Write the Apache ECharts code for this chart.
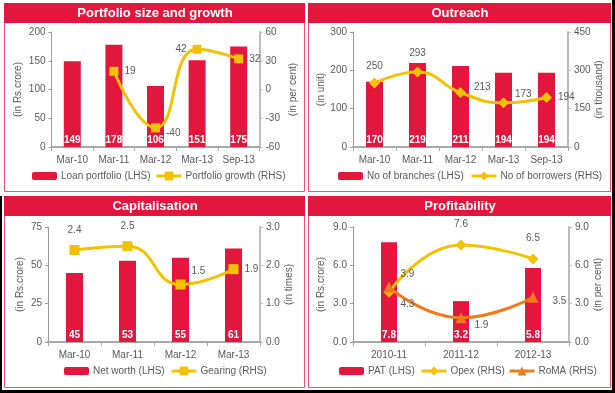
<!DOCTYPE html>
<html><head><meta charset="utf-8">
<script src="https://cdn.jsdelivr.net/npm/echarts@6/dist/echarts.min.js"></script>
<style>html,body{margin:0;padding:0;background:#fff}#c{width:615px;height:393px}</style>
</head><body><div id="c"></div>
<script>
// ---- data ----
const portfolioCats = ['Mar-10','Mar-11','Mar-12','Mar-13','Sep-13'];
const loanPortfolio = [149,178,106,151,175];
const portfolioGrowth = [null,19,-40,42,32];
const outreachCats = ['Mar-10','Mar-11','Mar-12','Mar-13','Sep-13'];
const branches = [170,219,211,194,194];
const borrowers = [250,293,213,173,194];
const capCats = ['Mar-10','Mar-11','Mar-12','Mar-13'];
const netWorth = [45,53,55,61];
const gearing = [2.4,2.5,1.5,1.9];
const profCats = ['2010-11','2011-12','2012-13'];
const pat = [7.8,3.2,5.8];
const opex = [3.9,7.6,6.5];
const roma = [4.3,1.9,3.5];
const titles = ['Portfolio size and growth','Outreach','Capitalisation','Profitability'];
const axisNames = [['(in Rs.crore)','(in per cent)'],['(in unit)','(in thousand)'],['(in Rs.crore)','(in times)'],['(in Rs.crore)','(in per cent)']];

// ---- label placement (style only) ----
const growthLbl = [null,{p:'right',o:[0,0]},{p:'right',o:[0,5]},{p:'left',o:[0,0]},{p:'right',o:[0,0]}];
const borrowersLbl = [{p:'top',o:[0,0]},{p:'top',o:[0,-2]},{p:'right',o:[2,-5]},{p:'right',o:[0,-9]},{p:'right',o:[0,0]}];
const gearingLbl = [{p:'top',o:[0,-4]},{p:'top',o:[0,-4]},{p:'right',o:[0,-13]},{p:'right',o:[0,0]}];
const opexLbl = [{p:'right',o:[0,-18]},{p:'top',o:[0,-4]},{p:'top',o:[0,-4]}];
const romaLbl = [{p:'right',o:[0,17]},{p:'right',o:[2,8]},{p:'right',o:[8,4]}];

const FONT = "'Liberation Sans',Arial,sans-serif";
const FS = 10;
const RED = '#E3173E', YEL = '#F2C200', ORG = '#F07A1E', TXT = '#595959';

const grids = [
  {left:51.5, top:32, width:208, height:115},
  {left:353, top:32, width:215, height:115},
  {left:48, top:227, width:212, height:115},
  {left:353, top:227, width:216, height:115}
];
const cats = [portfolioCats, outreachCats, capCats, profCats];
const yL = [[0,200,50],[0,300,100],[0,75,25],[0,9,3]];
const yR = [[-60,60,30],[0,450,150],[0,3,1],[0,9,3]];
const fmtL = [null,null,null,v=>v.toFixed(1)];
const fmtR = [null,null,v=>v.toFixed(1),v=>v.toFixed(1)];
const gapL = [28,26,23,27];
const gapR = [29,23,24,22];

const xAxis = cats.map((c,i)=>({
  type:'category', gridIndex:i, data:c, boundaryGap:true,
  axisLine:{lineStyle:{color:'#a8a8a8', width:2}},
  axisTick:{show:true, length:4, lineStyle:{color:'#a8a8a8'}},
  axisLabel:{color:TXT, fontSize:FS, fontFamily:FONT, margin:8, interval:0}
}));
const yAxis = [];
for (let i=0;i<4;i++){
  yAxis.push({type:'value', gridIndex:i, position:'left', min:yL[i][0], max:yL[i][1], interval:yL[i][2],
    name:axisNames[i][0], nameLocation:'middle', nameRotate:90, nameGap:gapL[i],
    nameTextStyle:{color:TXT, fontSize:FS, fontFamily:FONT},
    axisLine:{show:true, lineStyle:{color:'#999', width:1}},
    axisTick:{show:true, length:3, lineStyle:{color:'#999'}},
    axisLabel:{color:TXT, fontSize:FS, fontFamily:FONT, margin:6, formatter:fmtL[i]||undefined},
    splitLine:{show:false}});
  yAxis.push({type:'value', gridIndex:i, position:'right', min:yR[i][0], max:yR[i][1], interval:yR[i][2],
    name:axisNames[i][1], nameLocation:'middle', nameRotate:90, nameGap:gapR[i],
    nameTextStyle:{color:TXT, fontSize:FS, fontFamily:FONT},
    axisLine:{show:true, lineStyle:{color:'#bcbcbc', width:2}},
    axisTick:{show:true, length:3, lineStyle:{color:'#bcbcbc'}},
    axisLabel:{color:TXT, fontSize:FS, fontFamily:FONT, margin:6, formatter:fmtR[i]||undefined},
    splitLine:{show:false}});
}

function barSeries(name, data, gi, w){
  return {type:'bar', name, data, xAxisIndex:gi, yAxisIndex:gi*2, barWidth:w,
    itemStyle:{color:RED},
    label:{show:true, position:'insideBottom', distance:2, color:'#fff', fontWeight:'bold', fontSize:FS, fontFamily:FONT}};
}
function lineSeries(name, data, lbl, gi, color, symbol, size){
  return {type:'line', name, xAxisIndex:gi, yAxisIndex:gi*2+1, smooth:0.5,
    symbol, symbolSize:size, showAllSymbol:true,
    lineStyle:{color, width:3}, itemStyle:{color},
    label:{show:true, color:TXT, fontSize:FS, fontFamily:FONT, distance:6},
    data:data.map((v,k)=> v===null ? null : {value:v, label:{position:lbl[k].p, offset:lbl[k].o}}),
    z:5};
}

const series = [
  barSeries('Loan portfolio (LHS)', loanPortfolio, 0, 17),
  lineSeries('Portfolio growth (RHS)', portfolioGrowth, growthLbl, 0, YEL, 'rect', 9),
  barSeries('No of branches (LHS)', branches, 1, 17),
  lineSeries('No of borrowers (RHS)', borrowers, borrowersLbl, 1, YEL, 'diamond', 11),
  barSeries('Net worth (LHS)', netWorth, 2, 17),
  lineSeries('Gearing (RHS)', gearing, gearingLbl, 2, YEL, 'rect', 10),
  barSeries('PAT (LHS)', pat, 3, 16),
  lineSeries('Opex (RHS)', opex, opexLbl, 3, YEL, 'diamond', 11),
  lineSeries('RoMA (RHS)', roma, romaLbl, 3, ORG, 'triangle', 11)
];

// [name, left, centerY, isLine]
const legendPos = [
  ['Loan portfolio (LHS)',32,178,0],['Portfolio growth (RHS)',155,178,1],
  ['No of branches (LHS)',338,178,0],['No of borrowers (RHS)',470,178,1],
  ['Net worth (LHS)',64,373,0],['Gearing (RHS)',170,373,1],
  ['PAT (LHS)',339,373,0],['Opex (RHS)',420,373,1],['RoMA (RHS)',508,373,1]
];
const legend = legendPos.map(([n,x,y,isLine])=>({data:[n], left:x, top:y-7, padding:0, itemWidth:25, itemHeight:isLine?11:8, itemGap:0,
  lineStyle:{width:3},
  textStyle:{color:TXT, fontSize:FS, fontFamily:FONT, padding:[0,0,0,-1]}, selectedMode:false}));

const panels = [[4,3,300,188],[308,3,302,188],[4,196,300,191],[308,196,302,191]];
const graphic = [];
panels.forEach((p,i)=>{
  graphic.push({type:'rect', shape:{x:p[0]+0.5, y:p[1]+0.5, width:p[2], height:p[3]}, style:{fill:null, stroke:'#EA5470', lineWidth:1}});
  graphic.push({type:'rect', shape:{x:p[0], y:p[1], width:p[2]+1, height:20}, style:{fill:RED}});
  graphic.push({type:'text', x:p[0]+p[2]/2+1, y:p[1]+10, style:{text:titles[i], fill:'#fff', font:"bold 13px 'Liberation Sans',Arial,sans-serif", textAlign:'center', textVerticalAlign:'middle'}});
});
graphic.push({type:'rect', shape:{x:612, y:0, width:3, height:393}, style:{fill:'#000'}});
graphic.push({type:'rect', shape:{x:0, y:390, width:615, height:3}, style:{fill:'#000'}});
graphic.push({type:'rect', shape:{x:0, y:196, width:2, height:197}, style:{fill:'#000'}});

const chart = echarts.init(document.getElementById('c'), null, {renderer:'canvas'});
chart.setOption({backgroundColor:'#fff', animation:false, grid:grids, xAxis, yAxis, series, legend, graphic});
</script></body></html>
